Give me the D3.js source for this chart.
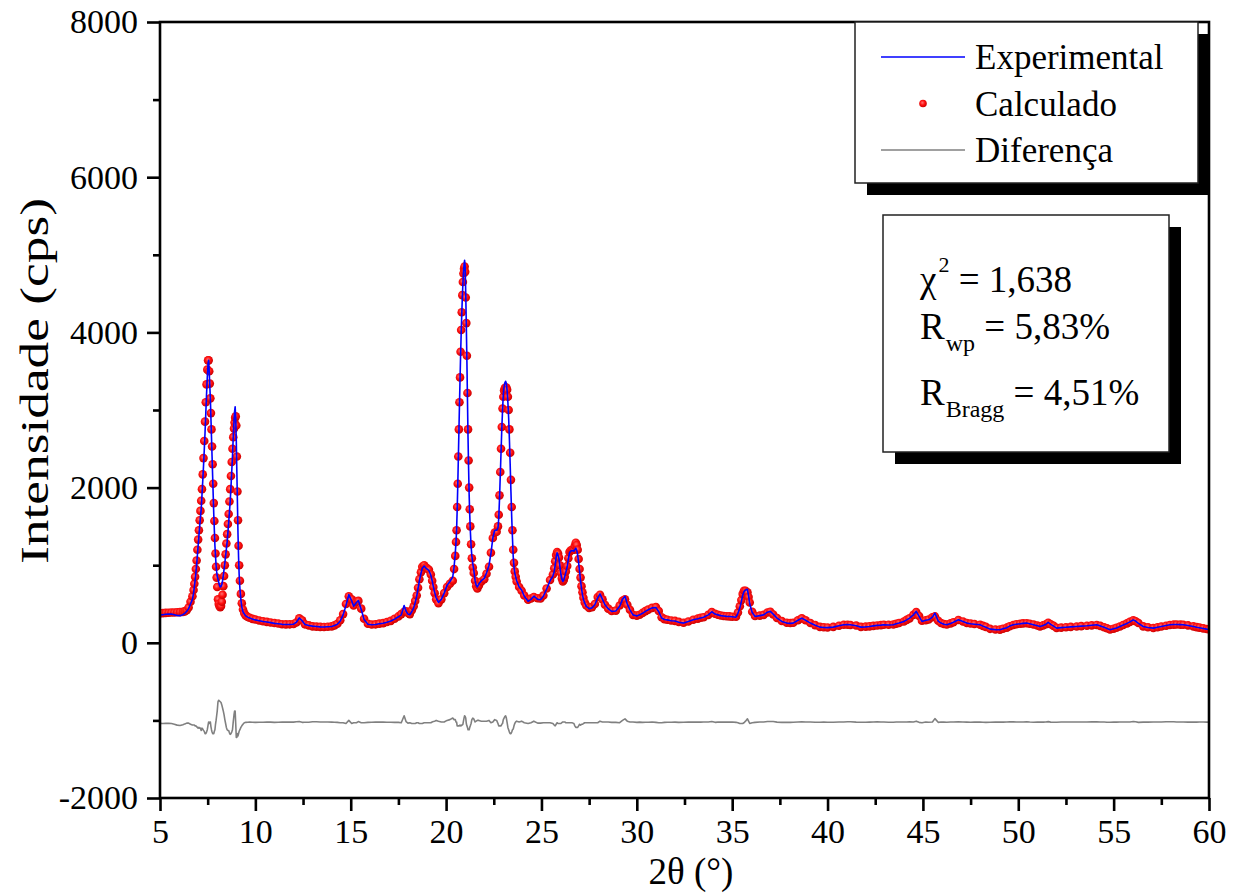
<!DOCTYPE html>
<html>
<head>
<meta charset="utf-8">
<script src="https://cdn.jsdelivr.net/npm/d3@7"></script>
<style>
  body { margin: 0; background: #fff; }
  svg text { font-family: "Liberation Serif", "Tinos", "Times New Roman", "DejaVu Serif", "Noto Serif", serif; fill: #000; }
</style>
</head>
<body>
<svg id="chart" width="1241" height="893"></svg>
<script>
// Diffraction angle 2θ (degrees)
const twoTheta = [
  5.00, 5.15, 5.30, 5.45, 5.60, 5.75, 5.90, 6.05, 6.20, 6.30,
  6.40, 6.50, 6.60, 6.70, 6.76, 6.80, 6.84, 6.88, 6.92, 6.96,
  7.00, 7.04, 7.08, 7.12, 7.16, 7.20, 7.24, 7.28, 7.32, 7.36,
  7.40, 7.44, 7.48, 7.52, 7.55, 7.58, 7.61, 7.64, 7.67, 7.70,
  7.73, 7.76, 7.79, 7.82, 7.85, 7.88, 7.91, 7.94, 7.97, 8.00,
  8.04, 8.08, 8.12, 8.16, 8.20, 8.24, 8.28, 8.32, 8.36, 8.40,
  8.44, 8.48, 8.52, 8.56, 8.60, 8.64, 8.68, 8.72, 8.76, 8.80,
  8.84, 8.88, 8.91, 8.94, 8.97, 9.00, 9.03, 9.06, 9.09, 9.12,
  9.15, 9.19, 9.24, 9.29, 9.35, 9.42, 9.50, 9.60, 9.70, 9.85,
  10.0, 10.2, 10.4, 10.6, 10.8, 11.0, 11.2, 11.4, 11.6, 11.8,
  12.0, 12.15, 12.3, 12.45, 12.6, 12.8, 13.0, 13.2, 13.4, 13.6,
  13.8, 14.0, 14.15, 14.3, 14.45, 14.6, 14.75, 14.9, 15.05, 15.15,
  15.3, 15.4, 15.55, 15.7, 15.9, 16.1, 16.3, 16.5, 16.7, 16.9,
  17.1, 17.3, 17.5, 17.65, 17.8, 17.9, 18.0, 18.1, 18.2, 18.3,
  18.38, 18.46, 18.53, 18.6, 18.68, 18.75, 18.85, 18.95, 19.03, 19.1,
  19.2, 19.27, 19.33, 19.4, 19.48, 19.6, 19.75, 19.9, 20.05, 20.2,
  20.35, 20.42, 20.48, 20.52, 20.55, 20.58, 20.61, 20.64, 20.67, 20.70,
  20.73, 20.76, 20.79, 20.82, 20.85, 20.88, 20.91, 20.94, 20.97, 21.00,
  21.03, 21.06, 21.09, 21.12, 21.15, 21.18, 21.21, 21.24, 21.27, 21.31,
  21.35, 21.40, 21.45, 21.52, 21.58, 21.64, 21.72, 21.85, 22.0, 22.12,
  22.25, 22.35, 22.45, 22.55, 22.65, 22.72, 22.76, 22.80, 22.84, 22.88,
  22.92, 22.96, 23.00, 23.04, 23.08, 23.12, 23.16, 23.20, 23.24, 23.28,
  23.32, 23.36, 23.40, 23.44, 23.48, 23.52, 23.56, 23.60, 23.65, 23.70,
  23.83, 23.96, 24.1, 24.3, 24.45, 24.6, 24.8, 24.95, 25.1, 25.27,
  25.45, 25.6, 25.67, 25.72, 25.77, 25.82, 25.87, 25.92, 25.97, 26.02,
  26.07, 26.12, 26.17, 26.22, 26.28, 26.35, 26.41, 26.47, 26.53, 26.6,
  26.65, 26.7, 26.75, 26.8, 26.85, 26.9, 26.95, 27.0, 27.05, 27.1,
  27.15, 27.2, 27.27, 27.35, 27.5, 27.65, 27.8, 27.95, 28.07, 28.2,
  28.33, 28.5, 28.68, 28.9, 29.1, 29.25, 29.38, 29.5, 29.64, 29.8,
  30.0, 30.15, 30.3, 30.45, 30.6, 30.8, 31.0, 31.15, 31.3, 31.45,
  31.6, 31.8, 32.0, 32.2, 32.45, 32.7, 32.96, 33.2, 33.35, 33.5,
  33.75, 33.93, 34.1, 34.25, 34.4, 34.55, 34.7, 34.85, 35.0, 35.2,
  35.3, 35.4, 35.48, 35.55, 35.62, 35.7, 35.8, 35.86, 35.92, 36.05,
  36.2, 36.45, 36.65, 36.85, 37.0, 37.15, 37.35, 37.6, 37.86, 38.05,
  38.2, 38.45, 38.65, 38.85, 39.1, 39.35, 39.6, 39.8, 40.0, 40.3,
  40.6, 40.85, 41.05, 41.2, 41.5, 41.75, 42.0, 42.2, 42.4, 42.6,
  42.8, 42.95, 43.2, 43.45, 43.6, 43.75, 44.0, 44.15, 44.3, 44.5,
  44.65, 44.8, 44.95, 45.15, 45.3, 45.5, 45.63, 45.8, 45.95, 46.1,
  46.25, 46.45, 46.6, 46.86, 47.1, 47.3, 47.5, 47.7, 48.0, 48.15,
  48.3, 48.52, 48.8, 49.04, 49.2, 49.4, 49.55, 49.74, 49.9, 50.1,
  50.25, 50.44, 50.6, 50.8, 51.0, 51.14, 51.3, 51.45, 51.57, 51.7,
  51.85, 52.01, 52.25, 52.5, 52.75, 53.06, 53.3, 53.6, 53.85, 54.11,
  54.3, 54.5, 54.65, 54.81, 55.0, 55.15, 55.33, 55.5, 55.7, 55.85,
  56.03, 56.15, 56.3, 56.55, 56.8, 57.08, 57.3, 57.5, 57.75, 57.95,
  58.15, 58.3, 58.5, 58.65, 58.9, 59.18, 59.35, 59.5, 59.7, 59.88,
  60.0
];

// Observed intensity (cps)
const yObs = [
  360, 362, 368, 372, 370, 362, 352, 350, 362, 380,
  405, 440, 500, 560, 640, 720, 800, 900, 1000, 1130,
  1250, 1380, 1500, 1620, 1720, 1900, 2080, 2270, 2480, 2700,
  2950, 3200, 3420, 3600, 3640, 3500, 3320, 3150, 2900, 2650,
  2400, 2150, 1900, 1650, 1450, 1250, 1120, 1000, 920, 860,
  820, 780, 740, 720, 725, 750, 800, 870, 950, 1030,
  1120, 1210, 1300, 1420, 1550, 1680, 1820, 2000, 2200, 2400,
  2650, 2850, 2980, 3040, 2900, 2600, 2200, 1800, 1400, 1100,
  880, 700, 560, 460, 400, 370, 345, 330, 320, 305,
  295, 285, 275, 268, 260, 250, 245, 238, 235, 236,
  240, 265, 320, 285, 235, 222, 215, 210, 205, 203,
  206, 210, 222, 240, 280, 360, 480, 620, 540, 470,
  520, 545, 430, 300, 240, 233, 236, 245, 252, 265,
  280, 305, 335, 360, 480, 410, 370, 360, 400, 450,
  520, 600, 700, 800, 890, 960, 990, 960, 945, 930,
  870, 800, 725, 650, 580, 520, 560, 640, 740, 790,
  850, 980, 1150, 1300, 1450, 1700, 2000, 2350, 2700, 3050,
  3380, 3700, 3980, 4220, 4440, 4620, 4770, 4870, 4930, 4850,
  4500, 4100, 3650, 3150, 2650, 2250, 1900, 1650, 1450, 1250,
  1120, 1020, 940, 800, 740, 720, 760, 800, 830, 900,
  1000, 1150, 1350, 1450, 1450, 1480, 1600, 1850, 2150, 2450,
  2750, 3000, 3200, 3300, 3350, 3370, 3340, 3250, 3100, 2900,
  2620, 2300, 1950, 1620, 1350, 1110, 980, 900, 850, 800,
  720, 680, 600, 535, 560, 600, 560, 555, 600, 690,
  800, 860, 920, 1000, 1100, 1160, 1130, 1080, 980, 880,
  820, 790, 810, 850, 910, 980, 1080, 1160, 1180, 1190,
  1185, 1180, 1200, 1220, 1190, 1130, 1030, 920, 800, 700,
  620, 560, 510, 470, 440, 450, 490, 580, 630, 560,
  490, 440, 405, 410, 470, 560, 600, 500, 425, 360,
  345, 360, 380, 405, 425, 450, 455, 400, 320, 300,
  295, 285, 280, 265, 254, 275, 296, 310, 320, 330,
  360, 400, 370, 360, 350, 345, 340, 338, 335, 330,
  380, 450, 530, 610, 660, 680, 690, 600, 500, 390,
  340, 350, 360, 395, 405, 370, 318, 275, 254, 250,
  254, 290, 318, 290, 254, 225, 202, 198, 195, 202,
  220, 232, 234, 232, 220, 202, 205, 210, 218, 225,
  228, 232, 230, 232, 245, 255, 275, 295, 318, 360,
  405, 340, 275, 290, 296, 330, 383, 280, 254, 240,
  232, 250, 265, 296, 275, 254, 245, 240, 232, 215,
  200, 176, 170, 168, 180, 195, 215, 232, 240, 245,
  250, 254, 245, 232, 220, 210, 222, 240, 262, 238,
  215, 189, 195, 200, 205, 210, 215, 220, 226, 232,
  218, 200, 185, 168, 180, 192, 210, 230, 250, 270,
  296, 280, 250, 210, 198, 189, 200, 210, 222, 232,
  236, 235, 234, 232, 222, 210, 200, 195, 185, 176,
  172
];

// Calculated (refined) intensity (cps)
const yCalc = [
  378, 382, 386, 388, 390, 391, 393, 395, 398, 405,
  420, 455, 530, 600, 680, 760, 850, 950, 1060, 1200,
  1330, 1450, 1580, 1700, 1830, 1980, 2170, 2380, 2600, 2850,
  3100, 3330, 3520, 3640, 3640, 3500, 3340, 3150, 2960, 2750,
  2530, 2300, 2050, 1800, 1570, 1350, 1150, 980, 840, 720,
  560, 500, 470, 460, 475, 530, 620, 730, 860, 1000,
  1140, 1280, 1400, 1530, 1660, 1820, 1980, 2150, 2330, 2500,
  2650, 2760, 2840, 2900, 2920, 2800, 2400, 1950, 1580, 1250,
  1000, 800, 630, 510, 430, 380, 350, 333, 322, 308,
  300, 288, 278, 270, 262, 255, 248, 240, 237, 238,
  242, 262, 315, 290, 238, 225, 212, 208, 205, 204,
  207, 212, 225, 245, 290, 370, 500, 600, 560, 480,
  530, 540, 440, 310, 245, 236, 238, 247, 254, 268,
  283, 310, 340, 370, 400, 405, 385, 370, 420, 470,
  540, 610, 710, 820, 910, 980, 1000, 970, 955, 940,
  880, 800, 720, 640, 560, 510, 560, 640, 720, 760,
  800, 950, 1120, 1300, 1450, 1750, 2050, 2400, 2750, 3100,
  3420, 3750, 4030, 4260, 4480, 4650, 4760, 4820, 4850, 4780,
  4450, 4120, 3700, 3220, 2750, 2350, 2000, 1720, 1500, 1270,
  1090, 970, 900, 800, 730, 700, 740, 790, 820, 890,
  980, 1160, 1350, 1420, 1430, 1500, 1650, 1900, 2200, 2500,
  2780, 3020, 3170, 3250, 3280, 3290, 3290, 3260, 3170, 3000,
  2750, 2450, 2100, 1750, 1450, 1200, 1030, 920, 850, 790,
  720, 670, 610, 555, 570, 590, 575, 570, 610, 700,
  810, 880, 960, 1050, 1130, 1170, 1150, 1100, 1000, 900,
  830, 790, 810, 850, 920, 990, 1090, 1170, 1190, 1200,
  1200, 1200, 1250, 1290, 1260, 1200, 1080, 950, 840, 730,
  650, 580, 520, 480, 450, 460, 500, 590, 620, 560,
  490, 440, 410, 415, 480, 540, 560, 490, 425, 360,
  350, 362, 385, 408, 428, 450, 460, 410, 330, 305,
  298, 288, 282, 270, 258, 275, 298, 312, 322, 330,
  360, 395, 375, 362, 352, 346, 342, 340, 335, 335,
  390, 470, 550, 630, 670, 670, 650, 590, 520, 400,
  345, 350, 360, 390, 400, 365, 320, 280, 258, 255,
  258, 290, 315, 290, 255, 228, 205, 200, 198, 205,
  220, 232, 232, 230, 222, 205, 208, 212, 218, 222,
  228, 232, 233, 235, 245, 255, 275, 295, 315, 360,
  395, 345, 285, 290, 300, 330, 340, 285, 255, 242,
  235, 250, 265, 294, 275, 256, 248, 242, 232, 218,
  205, 180, 172, 170, 182, 195, 214, 230, 240, 245,
  250, 252, 246, 235, 222, 212, 224, 240, 258, 240,
  218, 192, 196, 200, 205, 210, 215, 220, 225, 230,
  218, 200, 188, 172, 182, 194, 210, 230, 250, 270,
  290, 278, 255, 212, 200, 190, 200, 210, 220, 230,
  234, 235, 234, 232, 224, 212, 202, 196, 186, 178,
  174
];

// The difference curve is plotted shifted down by this amount
const DIFF_OFFSET = -1020;

const xMajorTicks = [5, 10, 15, 20, 25, 30, 35, 40, 45, 50, 55, 60];
const xMinorTicks = [7.5, 12.5, 17.5, 22.5, 27.5, 32.5, 37.5, 42.5, 47.5, 52.5, 57.5];
const yMajorTicks = [-2000, 0, 2000, 4000, 6000, 8000];
const yMinorTicks = [-1000, 1000, 3000, 5000, 7000];

const seriesNames = ["Experimental", "Calculado", "Diferença"];
const fitStats = [
  { sym: "χ", sup: "2", sub: "", value: "1,638" },
  { sym: "R", sup: "", sub: "wp", value: "5,83%" },
  { sym: "R", sup: "", sub: "Bragg", value: "4,51%" }
];

const xLabel = "2θ (°)";
const yLabel = "Intensidade (cps)";

// ---- layout ----
const plot = { left: 160, right: 1209, top: 22, bottom: 798 };
const serif = '"Liberation Serif", "Tinos", "Times New Roman", "DejaVu Serif", serif';

const svg = d3.select("#chart");
const x = d3.scaleLinear().domain([5, 60]).range([plot.left, plot.right]);
const y = d3.scaleLinear().domain([-2000, 8000]).range([plot.bottom, plot.top]);

const points = twoTheta.map((t, i) => ({
  t, obs: yObs[i], calc: yCalc[i], diff: yObs[i] - yCalc[i] + DIFF_OFFSET
}));

const defs = svg.append("defs");
defs.append("clipPath").attr("id", "plotClip")
  .append("rect")
  .attr("x", plot.left).attr("y", plot.top)
  .attr("width", plot.right - plot.left).attr("height", plot.bottom - plot.top);

const ball = defs.append("radialGradient").attr("id", "ball")
  .attr("cx", "42%").attr("cy", "40%").attr("r", "62%");
ball.append("stop").attr("offset", "0%").attr("stop-color", "#ff7070");
ball.append("stop").attr("offset", "50%").attr("stop-color", "#ff1010");
ball.append("stop").attr("offset", "100%").attr("stop-color", "#c80000");

// ---- data layers ----
const layer = svg.append("g").attr("clip-path", "url(#plotClip)");

layer.append("g").selectAll("circle")
  .data(points)
  .join("circle")
  .attr("cx", d => x(d.t))
  .attr("cy", d => y(d.calc))
  .attr("r", 4.3)
  .attr("fill", "url(#ball)");

layer.append("path")
  .datum(points)
  .attr("fill", "none")
  .attr("stroke", "#0000ff")
  .attr("stroke-width", 1.6)
  .attr("stroke-linejoin", "round")
  .attr("d", d3.line().x(d => x(d.t)).y(d => y(d.obs)));

layer.append("path")
  .datum(points)
  .attr("fill", "none")
  .attr("stroke", "#808080")
  .attr("stroke-width", 1.6)
  .attr("stroke-linejoin", "round")
  .attr("d", d3.line().x(d => x(d.t)).y(d => y(d.diff)));

// ---- frame and axes ----
const frameW = 2.6;
svg.append("rect")
  .attr("x", plot.left).attr("y", plot.top)
  .attr("width", plot.right - plot.left).attr("height", plot.bottom - plot.top)
  .attr("fill", "none").attr("stroke", "#000").attr("stroke-width", frameW);

function styleAxis(g) {
  g.attr("font-family", serif);
  g.select(".domain").remove();
  g.selectAll(".tick line").attr("stroke", "#000").attr("stroke-width", frameW);
  g.selectAll(".tick text").attr("font-size", 34).attr("font-family", serif).attr("fill", "#000");
}

const numFmt = d => (d < 0 ? "-" + Math.abs(d) : String(d));

svg.append("g")
  .attr("transform", `translate(0,${plot.bottom})`)
  .call(d3.axisBottom(x).tickValues(xMinorTicks).tickSize(7).tickFormat(""))
  .call(styleAxis);

svg.append("g")
  .attr("transform", `translate(0,${plot.bottom})`)
  .call(d3.axisBottom(x).tickValues(xMajorTicks).tickSize(13).tickPadding(8).tickFormat(numFmt))
  .call(styleAxis);

svg.append("g")
  .attr("transform", `translate(${plot.left},0)`)
  .call(d3.axisLeft(y).tickValues(yMinorTicks).tickSize(7).tickFormat(""))
  .call(styleAxis);

svg.append("g")
  .attr("transform", `translate(${plot.left},0)`)
  .call(d3.axisLeft(y).tickValues(yMajorTicks).tickSize(13).tickPadding(9).tickFormat(numFmt))
  .call(styleAxis);

// axis titles
svg.append("text")
  .attr("x", 691).attr("y", 884)
  .attr("text-anchor", "middle")
  .attr("font-size", 37)
  .text(xLabel);

svg.append("text")
  .attr("transform", "translate(48,381) rotate(-90)")
  .attr("text-anchor", "middle")
  .attr("font-size", 41)
  .attr("textLength", 366)
  .attr("lengthAdjust", "spacingAndGlyphs")
  .text(yLabel);

// ---- legend ----
const shadow = 12;
const leg = { x: 855, y: 22, w: 343, h: 161 };
svg.append("rect")
  .attr("x", leg.x + shadow).attr("y", leg.y + shadow)
  .attr("width", leg.w).attr("height", leg.h).attr("fill", "#000");
svg.append("rect")
  .attr("x", leg.x).attr("y", leg.y)
  .attr("width", leg.w).attr("height", leg.h)
  .attr("fill", "#fff").attr("stroke", "#222").attr("stroke-width", 1.5);

const legRows = svg.append("g").selectAll("g")
  .data(seriesNames)
  .join("g")
  .attr("transform", (d, i) => `translate(${leg.x},${leg.y + 35 + i * 46.5})`);

legRows.each(function (d, i) {
  const g = d3.select(this);
  if (i === 1) {
    g.append("circle").attr("cx", 68).attr("cy", 0).attr("r", 3.8).attr("fill", "url(#ball)");
  } else {
    g.append("line")
      .attr("x1", 26).attr("x2", 110).attr("y1", 0).attr("y2", 0)
      .attr("stroke", i === 0 ? "#0000ff" : "#808080")
      .attr("stroke-width", 1.6);
  }
  g.append("text")
    .attr("x", 120).attr("y", 12)
    .attr("font-size", 35)
    .text(d);
});

// ---- refinement statistics ----
const box = { x: 883, y: 215, w: 286, h: 237 };
svg.append("rect")
  .attr("x", box.x + shadow).attr("y", box.y + shadow)
  .attr("width", box.w).attr("height", box.h).attr("fill", "#000");
svg.append("rect")
  .attr("x", box.x).attr("y", box.y)
  .attr("width", box.w).attr("height", box.h)
  .attr("fill", "#fff").attr("stroke", "#222").attr("stroke-width", 1.5);

const statBase = [292, 339, 405];
fitStats.forEach((s, i) => {
  const t = svg.append("text")
    .attr("x", 920).attr("y", statBase[i])
    .attr("font-size", 37);
  t.append("tspan").text(s.sym);
  if (s.sup) {
    t.append("tspan").attr("font-size", 22).attr("dy", -20).attr("dx", 2).text(s.sup);
    t.append("tspan").attr("dy", 20).text(" = " + s.value);
  } else {
    t.append("tspan").attr("font-size", 24).attr("dy", 12).attr("dx", 1).text(s.sub);
    t.append("tspan").attr("dy", -12).text(" = " + s.value);
  }
});
</script>
</body>
</html>
